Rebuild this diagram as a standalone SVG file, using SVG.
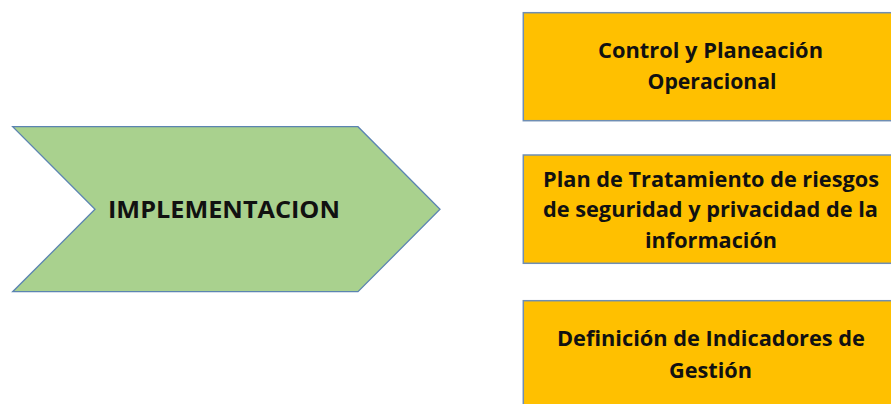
<svg xmlns="http://www.w3.org/2000/svg" width="891" height="404" viewBox="0 0 891 404">
<style>
.chev{fill:#A9D18E;stroke:#5B84B1;stroke-width:1.3}
.box{fill:#FFC000;stroke:#6F8EB3;stroke-width:1.5}
.t{font-family:"Open Sans","Noto Sans","DejaVu Sans",sans-serif;font-weight:bold;fill:#111;text-anchor:middle}
.b{font-size:21px}
.m{font-size:24px}
</style>
<rect width="891" height="404" fill="#fff"/>
<g id="implementacion">
<polygon class="chev" points="12.7,126.7 358,126.7 440,209.3 358,291.7 12.7,291.7 95,209.3"/>
<text class="t m" x="224" y="218" textLength="232" lengthAdjust="spacingAndGlyphs">IMPLEMENTACION</text>
</g>
<g id="control">
<rect class="box" x="523.3" y="12.7" width="376" height="108"/>
<text class="t b" x="710.5" y="58.3" textLength="225" lengthAdjust="spacingAndGlyphs">Control y Planeación</text>
<text class="t b" x="712" y="89.3" textLength="129" lengthAdjust="spacingAndGlyphs">Operacional</text>
</g>
<g id="plan">
<rect class="box" x="523.3" y="155" width="376" height="108.3"/>
<text class="t b" x="711" y="186.7" textLength="336" lengthAdjust="spacingAndGlyphs">Plan de Tratamiento de riesgos</text>
<text class="t b" x="710.5" y="216.7" textLength="335" lengthAdjust="spacingAndGlyphs">de seguridad y privacidad de la</text>
<text class="t b" x="711" y="248.3" textLength="132" lengthAdjust="spacingAndGlyphs">información</text>
</g>
<g id="indicadores">
<rect class="box" x="523.3" y="300.7" width="376" height="110"/>
<text class="t b" x="711" y="345.7" textLength="308" lengthAdjust="spacingAndGlyphs">Definición de Indicadores de</text>
<text class="t b" x="710.5" y="378.3" textLength="83" lengthAdjust="spacingAndGlyphs">Gestión</text>
</g>
<g id="connectors"></g>
</svg>
